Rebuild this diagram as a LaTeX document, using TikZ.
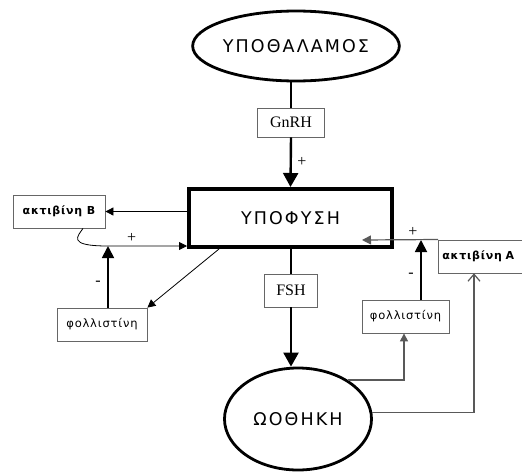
\documentclass[tikz,border=0pt]{standalone}
\usepackage{fontspec}
\setmainfont{Liberation Serif}
\newfontfamily\grfont[LetterSpace=12]{DejaVu Sans}
\newfontfamily\smfont[LetterSpace=7]{DejaVu Sans}
\usetikzlibrary{arrows.meta,shapes.geometric}
\begin{document}
\begin{tikzpicture}[x=1pt,y=-1pt,
    organ/.style={ellipse,draw,line width=2.8pt,inner sep=0pt,
        font=\grfont\fontsize{17.5}{20}\selectfont},
    gland/.style={draw,line width=4pt,minimum width=203,minimum height=58,
        font=\grfont\fontsize{17.5}{20}\selectfont},
    hormone/.style={draw=black!60,line width=0.8pt,inner sep=0pt,
        font=\fontsize{16}{18}\selectfont},
    factor/.style={draw=black!60,line width=0.8pt,inner sep=0pt,minimum height=33,
        font=\smfont\fontsize{11.5}{13}\selectfont},
    mainarrow/.style={line width=2.4pt,-{Triangle[length=14pt,width=15pt]}},
    feedback/.style={line width=1.8pt,-{Triangle[length=12pt,width=12pt]}},
    link/.style={line width=0.8pt,-{Triangle[length=8pt,width=8pt]}},
    greylink/.style={draw=black!65,line width=1.2pt},
    sign/.style={font=\fontsize{16}{18}\selectfont}]
    \clip (0,0) rectangle (522,474);
    \fill[white] (0,0) rectangle (522,474);
    % glands and hormones
    \node[organ,minimum width=186,minimum height=70] (hyp) at (296,46) {ΥΠΟΘΑΛΑΜΟΣ};
    \node[hormone,minimum width=67,minimum height=29] (gnrh) at (291,122.5) {GnRH};
    \node[gland] (pit) at (290.5,218) {ΥΠΟΦΥΣΗ};
    \node[hormone,minimum width=53,minimum height=33] (fsh) at (291,290.5) {FSH};
    \node[organ,minimum width=147,minimum height=102] (ovary) at (298,419) {ΩΟΘΗΚΗ};
    % side factors
    \node[factor,minimum width=92,font=\smfont\bfseries\fontsize{11}{13}\selectfont] (actB) at (59,211.5) {ακτιβίνη Β};
    \node[factor,minimum width=90] (folL) at (102,324.5) {φολλιστίνη};
    \node[factor,minimum width=87] (folR) at (405.5,316.5) {φολλιστίνη};
    \node[factor,anchor=north west,minimum width=100,inner xsep=4pt,text width=92,align=left,
        font=\smfont\bfseries\fontsize{11}{13}\selectfont] (actA) at (438,239.5) {ακτιβίνη Α};
    \coordinate (plusB) at (108,246);
    \coordinate (plusA) at (421,240);
    \coordinate (pitA) at (362,240);
    % main axis
    \draw[line width=2.4pt] (gnrh.north |- hyp.south) -- (gnrh.north);
    \draw[mainarrow] (gnrh.south) -- (pit.north) node[midway,right,sign,xshift=2pt] {+};
    \draw[line width=2.4pt] (fsh.north |- pit.south) -- (fsh.north);
    \draw[mainarrow] (fsh.south) -- (fsh.south |- ovary.north);
    % left loop
    \draw[link] ([xshift=24]actB.south) .. controls (78,236) and (66,246) .. (plusB)
        -- (plusB -| pit.west) node[pos=0.3,above,sign] {+};
    \draw[link] (pit.west |- actB) -- (actB.east);
    \draw[feedback] (plusB |- folL.north) -- (plusB) node[pos=0.4,left,sign,xshift=-3pt] {-};
    \draw[link] ([xshift=32]pit.south west) -- (folL.north east);
    % right loop
    \draw[greylink,-{Triangle[length=9pt,width=9pt]}] (actA.north west) -- (pitA);
    \draw[feedback] (plusA |- folR.north) -- (plusA) node[pos=0.4,left,sign,xshift=-3pt] {-};
    \node[sign,above left] (plus) at (plusA) {+};
    \draw[greylink,-{Triangle[length=8pt,width=8pt]}] (ovary.38) -| ([xshift=-1.5]folR.south);
    \draw[greylink,-{Straight Barb[length=7pt,width=12pt]}] (ovary.5) -| ([xshift=36]actA.south west);
\end{tikzpicture}
\end{document}
